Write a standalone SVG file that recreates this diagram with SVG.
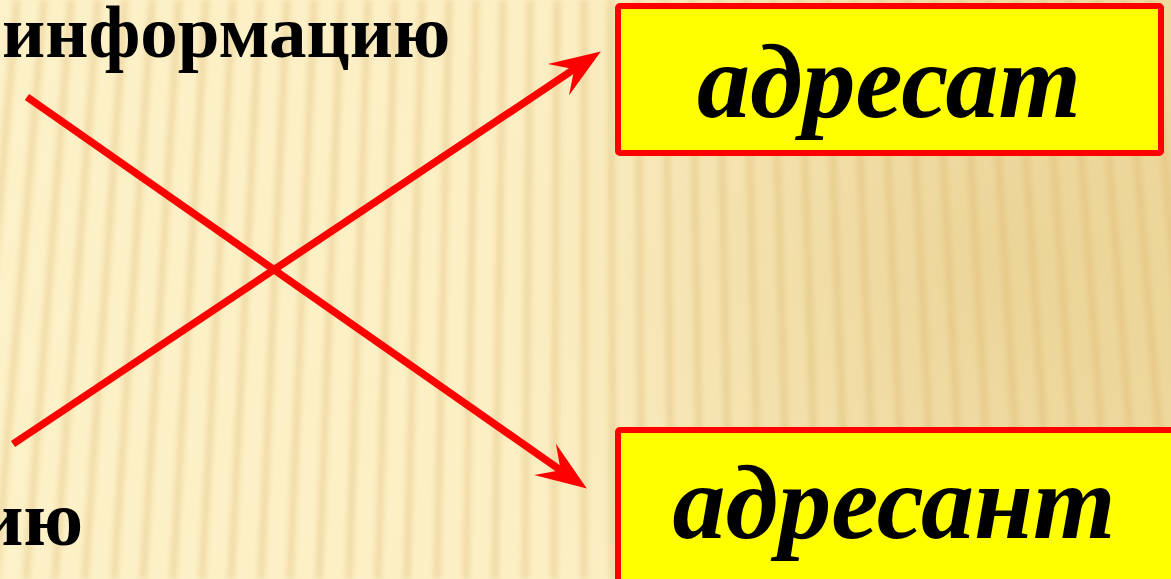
<svg xmlns="http://www.w3.org/2000/svg" width="1171" height="579" viewBox="0 0 1171 579">
<style>
.lbl{font-family:"Liberation Serif","Times New Roman",serif;font-weight:bold;fill:#000}
.big{font-family:"Liberation Serif","Times New Roman",serif;font-weight:bold;font-style:italic;font-size:106px;fill:#000;text-anchor:middle}
.box{fill:#ffff00;stroke:#ff0000;stroke-width:6}
.arrow{fill:none;stroke:#ff0000;stroke-width:7.5}
</style>
<defs>
<linearGradient id="bg" x1="0" y1="0" x2="1" y2="0">
<stop offset="0" stop-color="#fdf1c8"/>
<stop offset="0.5" stop-color="#fcefc4"/>
<stop offset="1" stop-color="#f2dea6"/>
</linearGradient>
<radialGradient id="tint" cx="1000" cy="260" r="520" gradientUnits="userSpaceOnUse">
<stop offset="0" stop-color="#e2c682" stop-opacity="0.5"/>
<stop offset="1" stop-color="#e2c682" stop-opacity="0"/>
</radialGradient>
<filter id="soft" x="-5%" y="-5%" width="110%" height="110%">
<feGaussianBlur stdDeviation="2.8"/>
</filter>
<marker id="ah" markerUnits="userSpaceOnUse" orient="auto" refX="19" refY="0" markerWidth="50" markerHeight="36" overflow="visible">
<path d="M51,0 L0,-19 L19,0 L0,19 Z" fill="#ff0000"/>
</marker>
</defs>
<g id="background">
<rect x="0" y="0" width="1171" height="579" fill="url(#bg)"/>
<rect x="0" y="0" width="1171" height="579" fill="url(#tint)"/>
<path filter="url(#soft)" stroke="#d4ad5e" stroke-opacity="0.28" stroke-width="8" fill="none" d="M-10,0L-62,579 M17,0L-33,579 M44,0L-4,579 M71,0L26,579 M98,0L55,579 M125,0L85,579 M152,0L114,579 M179,0L143,579 M206,0L173,579 M233,0L202,579 M260,0L231,579 M287,0L261,579 M314,0L290,579 M341,0L319,579 M368,0L349,579 M395,0L378,579 M422,0L407,579 M449,0L437,579 M476,0L466,579 M503,0L495,579 M530,0L525,579 M557,0L554,579 M584,0L584,579 M611,0L613,579 M638,0L642,579 M665,0L672,579 M692,0L701,579 M719,0L730,579 M746,0L760,579 M773,0L789,579 M800,0L818,579 M827,0L848,579 M854,0L877,579 M881,0L906,579 M908,0L936,579 M935,0L965,579 M962,0L994,579 M989,0L1024,579 M1016,0L1053,579 M1043,0L1082,579 M1070,0L1112,579 M1097,0L1141,579 M1124,0L1171,579 M1151,0L1200,579 M1178,0L1229,579"/>
</g>
<g id="connectors">
<path class="arrow" d="M27,97 L560.6,470.2" marker-end="url(#ah)"/>
<path class="arrow" d="M13,444 L574.2,69.2" marker-end="url(#ah)"/>
</g>
<g id="text-informaciyu">
<text class="lbl" x="2" y="57" font-size="75">информацию</text>
</g>
<g id="text-iyu">
<text class="lbl" x="83" y="545" font-size="78" text-anchor="end">ию</text>
</g>
<g id="node-adresat">
<rect class="box" x="618" y="6" width="543" height="147" rx="2"/>
<text class="big" x="889" y="117">адресат</text>
</g>
<g id="node-adresant">
<rect class="box" x="618" y="430" width="600" height="200" rx="2"/>
<text class="big" x="894" y="538">адресант</text>
</g>
</svg>
